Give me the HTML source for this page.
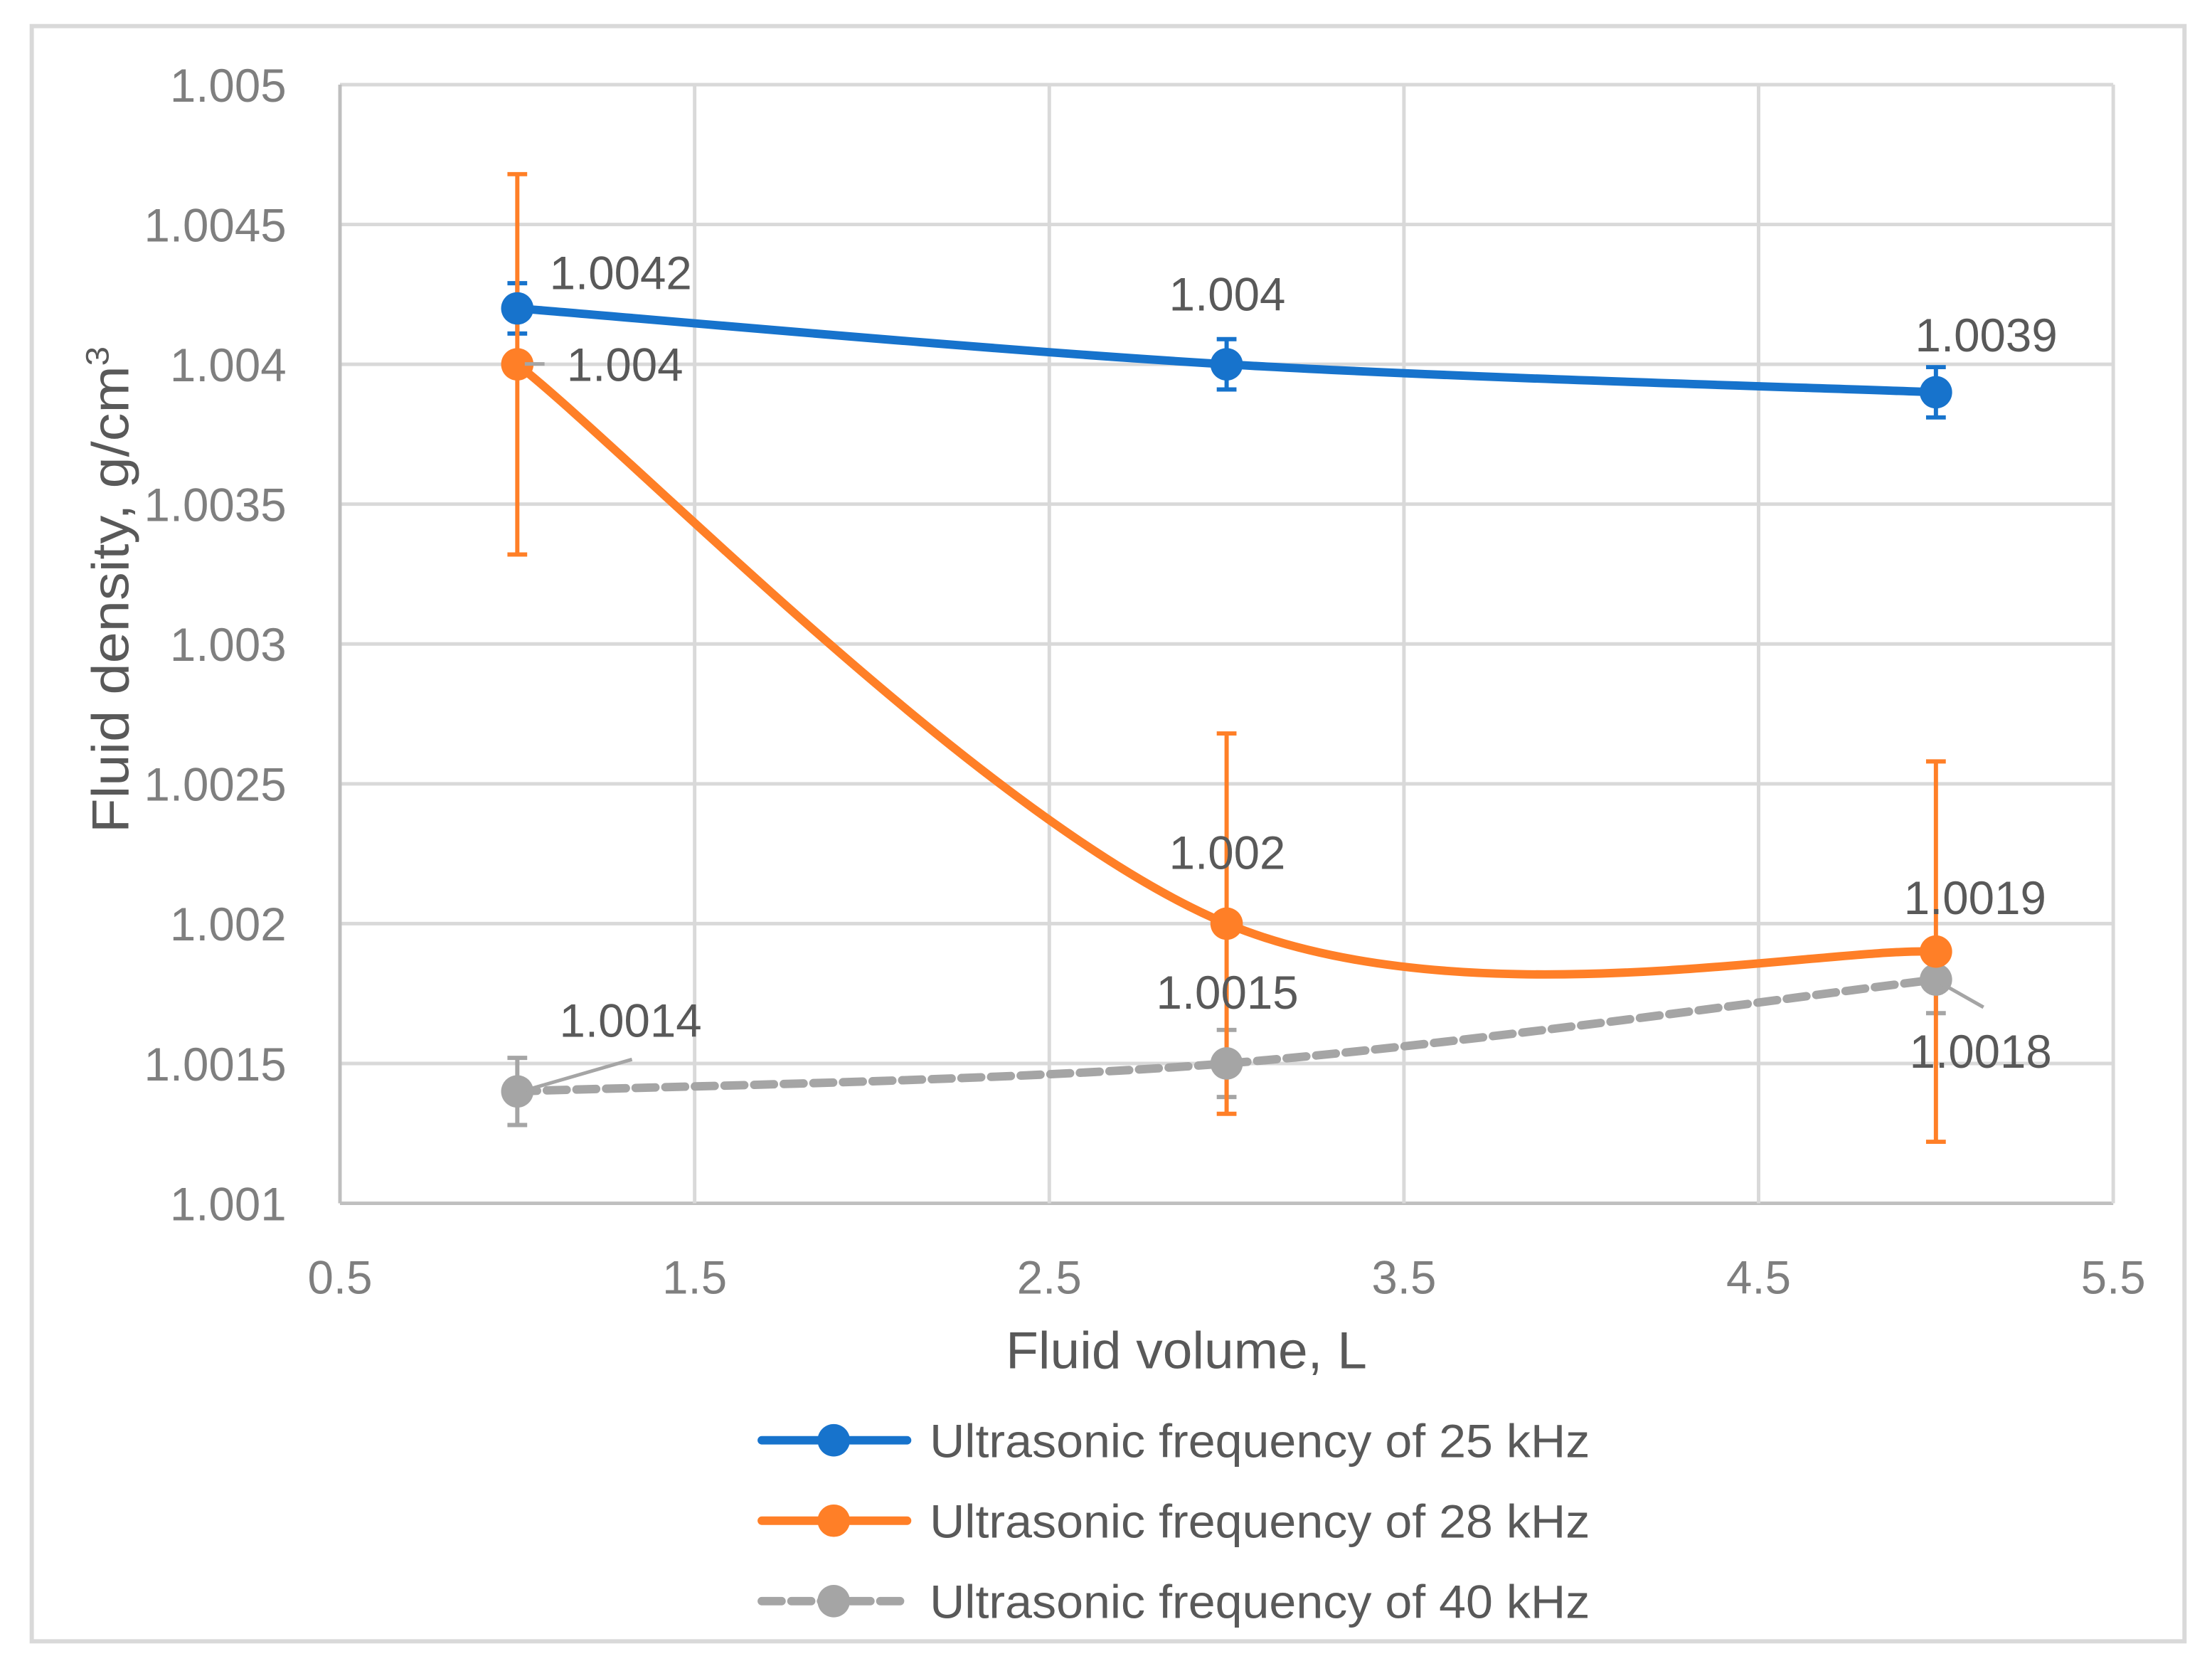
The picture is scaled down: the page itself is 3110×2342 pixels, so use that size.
<!DOCTYPE html>
<html><head><meta charset="utf-8"><style>
html,body{margin:0;padding:0;background:#fff}
svg{display:block}
text{font-family:"Liberation Sans",sans-serif}
</style></head><body>
<svg id="chart" width="3110" height="2342" viewBox="0 0 1568 1181" preserveAspectRatio="none" xmlns="http://www.w3.org/2000/svg">
<rect x="22.5" y="18.5" width="1526" height="1145" fill="#fff" stroke="#d9d9d9" stroke-width="3"/>
<g id="grid"></g>
<g id="series"></g>
<g id="labels"></g>
<text x="841" y="970" text-anchor="middle" font-size="37" fill="#595959" textLength="256" lengthAdjust="spacingAndGlyphs">Fluid volume, L</text>
<text transform="translate(91,418) rotate(-90)" text-anchor="middle" font-size="37" fill="#595959" textLength="345" lengthAdjust="spacingAndGlyphs">Fluid density, g/cm<tspan font-size="23" dy="-14">3</tspan></text>
<g id="legend"></g>
</svg>
<script>
const xs = [1, 3, 5];
const seriesNames = ["Ultrasonic frequency of 25 kHz","Ultrasonic frequency of 28 kHz","Ultrasonic frequency of 40 kHz"];
const v25 = [1.0042, 1.004, 1.0039];
const v28 = [1.004, 1.002, 1.0019];
const v40 = [1.0014, 1.0015, 1.0018];
const e25 = [0.00009, 0.00009, 0.00009];
const e28 = [0.00068, 0.00068, 0.00068];
const e40 = [0.00012, 0.00012, 0.00012];
const yTicks = [1.001, 1.0015, 1.002, 1.0025, 1.003, 1.0035, 1.004, 1.0045, 1.005];
const yTickLabels = ["1.001","1.0015","1.002","1.0025","1.003","1.0035","1.004","1.0045","1.005"];
const xTicks = [0.5, 1.5, 2.5, 3.5, 4.5, 5.5];
const xTickLabels = ["0.5","1.5","2.5","3.5","4.5","5.5"];

const NS="http://www.w3.org/2000/svg";
const L=241,R=1498,T=60,B=853;
const X=v=>L+(v-0.5)/5*(R-L);
const Y=v=>B-(v-1.001)/0.004*(B-T);
function mk(tag,attrs,parent){const e=document.createElementNS(NS,tag);for(const k in attrs)e.setAttribute(k,attrs[k]);parent.appendChild(e);return e;}
const grid=document.getElementById('grid');
yTicks.forEach((t,i)=>{
  const ln=mk('line',{x1:L,x2:R,y1:Y(t),y2:Y(t),stroke:i===0?'#bfbfbf':'#d9d9d9','stroke-width':2.5},grid);
  
  
  const tx=mk('text',{x:203,y:Y(t)+12,'text-anchor':'end','font-size':33,fill:'#7f7f7f'},grid);
  tx.textContent=yTickLabels[i];
  
  
});
xTicks.forEach((t,i)=>{
  const ln=mk('line',{x1:X(t),x2:X(t),y1:T,y2:B,stroke:i===0?'#bfbfbf':'#d9d9d9','stroke-width':2.5},grid);
  
  
  const tx=mk('text',{x:X(t),y:917,'text-anchor':'middle','font-size':33,fill:'#7f7f7f'},grid);
  tx.textContent=xTickLabels[i];
  
  
});
function smooth(pts){
  let d=`M${pts[0][0]},${pts[0][1]}`;
  for(let i=0;i<pts.length-1;i++){
    const p0=pts[Math.max(0,i-1)],p1=pts[i],p2=pts[i+1],p3=pts[Math.min(pts.length-1,i+2)];
    const t=1/6;
    const c1=[p1[0]+(p2[0]-p0[0])*t,p1[1]+(p2[1]-p0[1])*t];
    const c2=[p2[0]-(p3[0]-p1[0])*t,p2[1]-(p3[1]-p1[1])*t];
    d+=` C${c1[0]},${c1[1]} ${c2[0]},${c2[1]} ${p2[0]},${p2[1]}`;
  }
  return d;
}
const sg=document.getElementById('series');
const cols=['#1773cc','#ff7f27','#a5a5a5'];
const vals=[v25,v28,v40], errs=[e25,e28,e40];
const ids=['25khz','28khz','40khz'];
[2,0,1].forEach(s=>{
  const pts=xs.map((x,i)=>[X(x),Y(vals[s][i])]);
  const p=mk('path',{d:smooth(pts),fill:'none',stroke:cols[s],'stroke-width':6,'stroke-dasharray':s===2?'14 7':'none','stroke-linecap':'round'},sg);
  
  
});
[2,0,1].forEach(s=>{
  xs.forEach((x,i)=>{
    const cx=X(x),hi=Y(vals[s][i]+errs[s][i]),lo=Y(vals[s][i]-errs[s][i]);
    const eb=mk('path',{d:`M${cx},${hi}V${lo}M${cx-7},${hi}H${cx+7}M${cx-7},${lo}H${cx+7}`,stroke:cols[s],'stroke-width':3,fill:'none'},sg);
    
    
  });
});
[2,0,1].forEach(s=>{
  xs.forEach((x,i)=>{
    const c=mk('circle',{cx:X(x),cy:Y(vals[s][i]),r:11.5,fill:cols[s]},sg);
    
    
  });
});
const lg=document.getElementById('labels');
const labPos=[[[440,205],[870,220],[1408,249]],[[443,270],[870,616],[1400,648]],[[447,735],[870,715],[1404,757]]];
const leader=[[null,null,null],[[372,258,386,258],null,null],[[372,773,448,751],null,[1376,697,1406,714]]];
vals.forEach((arr,s)=>{
  arr.forEach((v,i)=>{
    const ld=leader[s][i];
    if(ld){const l=mk('line',{x1:ld[0],y1:ld[1],x2:ld[2],y2:ld[3],stroke:'#a5a5a5','stroke-width':2.5},lg);
      
      }
    const t=mk('text',{x:labPos[s][i][0],y:labPos[s][i][1],'text-anchor':'middle','font-size':33,fill:'#595959'},lg);
    t.textContent=String(v);
    
    
  });
});
const leg=document.getElementById('legend');
[0,1,2].forEach(s=>{
  const y=1021+57*s;
  const g=mk('g',{},leg);
  
  
  mk('line',{x1:540,x2:643,y1:y,y2:y,stroke:cols[s],'stroke-width':6,'stroke-dasharray':s===2?'14 7':'none','stroke-linecap':'round'},g);
  mk('circle',{cx:591,cy:y,r:11.5,fill:cols[s]},g);
  const t=mk('text',{x:659,y:y+12,'font-size':33,fill:'#595959',textLength:468,lengthAdjust:'spacingAndGlyphs'},g);
  t.textContent=seriesNames[s];
});
</script>
</body></html>
